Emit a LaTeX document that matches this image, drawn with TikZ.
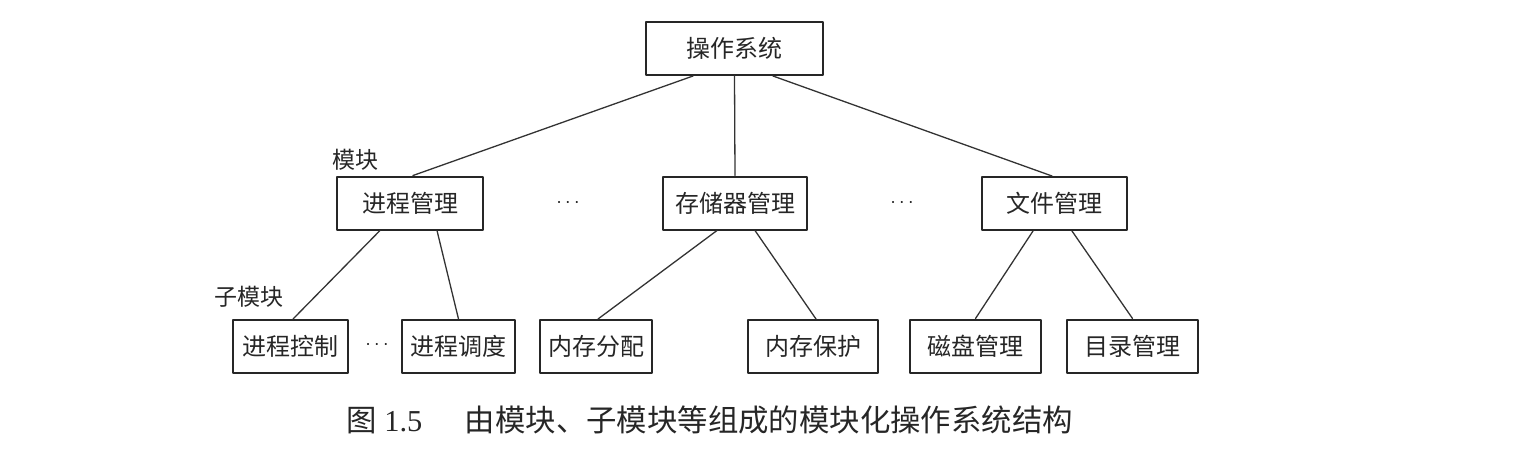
\documentclass[tikz,border=0pt]{standalone}
\usepackage{fontspec}
\setmainfont{Liberation Serif}
\newfontfamily\cjk{Noto Sans CJK SC}
\usetikzlibrary{positioning}

\begin{document}
\begin{tikzpicture}[line cap=round,line join=round,x=0.5pt,y=-0.5pt,
  box/.style={draw=black!85,line width=1pt,inner sep=0pt,minimum height=26.5pt,
    font=\cjk\fontsize{12}{14}\selectfont,text=black!85},
  link/.style={draw=black!80,line width=0.65pt},
  tag/.style={inner sep=0pt,font=\cjk\fontsize{11.5}{13}\selectfont,text=black!85},
  more/.style={inner sep=0pt,font=\fontsize{10}{12}\selectfont,text=black!90}]
\useasboundingbox (0,0) rectangle (1517,457);
% top level
\node [box,minimum width=88.5pt] (os) at (734.5,48.5) {操作系统};
% modules
\node [box,minimum width=73pt] (proc) at (410,203) {进程管理};
\node [box,minimum width=72pt] (mem) at (735,203) {存储器管理};
\node [box,minimum width=72.5pt] (file) at (1054.5,203.5) {文件管理};
% sub-modules
\node [box,minimum width=57.5pt] (pctl) at (290.5,346.5) {进程控制};
\node [box,minimum width=56.5pt] (psch) at (458.5,346.5) {进程调度};
\node [box,minimum width=56pt] (alloc) at (596,346.5) {内存分配};
\node [box,minimum width=65pt] (prot) at (813,346.5) {内存保护};
\node [box,minimum width=65.5pt] (disk) at (975.5,346) {磁盘管理};
\node [box,minimum width=65.5pt] (dir) at (1132.5,346) {目录管理};
% labels and dots
\node [tag] (modtag) at (355,160) {模块};
\node [tag] (subtag) at (249,297) {子模块};
\node [more] (dotsa) at (568,203) {$\cdots$};
\node [more] (dotsb) at (902,203) {$\cdots$};
\node [more] (dotsc) at (377,345) {$\cdots$};
% links
\draw [link] ([xshift=-20.75pt]os.south) -- ([xshift=1.5pt]proc.north);
\draw [link] (os.south) -- (mem.north);
\draw [link] ([xshift=19.25pt]os.south) -- ([xshift=-1.25pt]file.north);
\draw [link] ([xshift=-15pt]proc.south) -- ([xshift=1.25pt]pctl.north);
\draw [link] ([xshift=13.5pt]proc.south) -- (psch.north);
\draw [link] ([xshift=-9pt]mem.south) -- ([xshift=1pt]alloc.north);
\draw [link] ([xshift=10pt]mem.south) -- ([xshift=1.5pt]prot.north);
\draw [link] ([xshift=-10.75pt]file.south) -- (disk.north);
\draw [link] ([xshift=8.75pt]file.south) -- (dir.north);
% caption
\node [anchor=west,inner sep=0pt,font=\fontsize{15.2}{17}\selectfont,text=black!85] (cap) at (346,420)
  {{\cjk 图} 1.5\hspace{1.4em}{\cjk 由模块、子模块等组成的模块化操作系统结构}};
\end{tikzpicture}
\end{document}
